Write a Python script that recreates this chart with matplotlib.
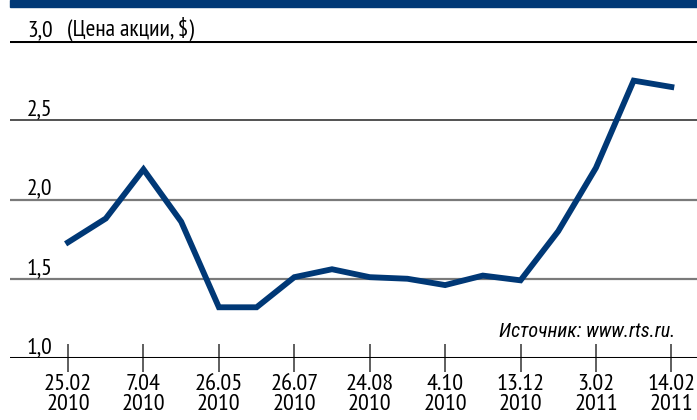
import matplotlib.pyplot as plt
from matplotlib.patches import Rectangle
from matplotlib.transforms import blended_transform_factory

# Цена акции, $
prices = [1.73, 1.88, 2.19, 1.86, 1.32, 1.32, 1.51, 1.56, 1.51,
          1.50, 1.46, 1.52, 1.49, 1.80, 2.20, 2.75, 2.71]
tick_pos = [0, 2, 4, 6, 8, 10, 12, 14, 16]
tick_labels = ['25.02\n2010', '7.04\n2010', '26.05\n2010', '26.07\n2010',
               '24.08\n2010', '4.10\n2010', '13.12\n2010', '3.02\n2011',
               '14.02\n2011']
y_levels = [1.0, 1.5, 2.0, 2.5, 3.0]
y_labels = ['1,0', '1,5', '2,0', '2,5', '3,0']

NAVY = '#003876'
FONT = ['PT Sans Narrow', 'Roboto Condensed', 'Fira Sans Condensed', 'DejaVu Sans']
FONT_IT = ['Roboto Condensed', 'Fira Sans Condensed', 'PT Sans Narrow', 'DejaVu Sans']
plt.rcParams['font.family'] = FONT

W, H = 697, 420
fig = plt.figure(figsize=(W / 100, H / 100), dpi=100)
ax = fig.add_axes([10 / W, (H - 358) / H, 687 / W, 317 / H])

# полоса заголовка сверху
fig.patches.append(Rectangle((10 / W, (H - 7) / H), 1, 7 / H,
                             transform=fig.transFigure, color=NAVY, zorder=0))

# горизонтальные линии сетки
for lev in y_levels:
    if lev in (1.0, 3.0):
        ax.axhline(lev, color='black', lw=2.2, zorder=2)
    elif lev == 2.5:
        ax.axhline(lev, color='#444444', lw=1.3, zorder=1)
    else:
        ax.axhline(lev, color='#7a7a7a', lw=1.6, zorder=1)

ax.plot(range(len(prices)), prices, color=NAVY, lw=4.2,
        solid_joinstyle='miter', zorder=3)

ax.set_xlim(-1.54, 16.68)
ax.set_ylim(1.0, 3.0)
for s in ax.spines.values():
    s.set_visible(False)

ax.set_yticks([])
ax.set_xticks(tick_pos)
ax.set_xticklabels(tick_labels, fontsize=17.5, linespacing=0.92)
ax.tick_params(axis='x', direction='inout', length=19.5, width=1.1,
               color='#333333', pad=2)

# подписи оси Y над линиями
tr = blended_transform_factory(fig.transFigure, ax.transData)
for lev, lab in zip(y_levels, y_labels):
    ax.annotate(lab, xy=(27 / W, lev), xycoords=tr, xytext=(0, 3.5),
                textcoords='offset points', fontsize=17, ha='left',
                va='baseline')
ax.annotate('(Цена акции, $)', xy=(67 / W, 3.0), xycoords=tr,
            xytext=(0, 4), textcoords='offset points',
            fontsize=17, ha='left', va='baseline')

ax.text((675 - 10) / 687, (358 - 337) / 317, 'Источник: www.rts.ru.',
        transform=ax.transAxes, fontsize=14.5, style='italic', family=FONT_IT,
        ha='right', va='baseline')

fig.savefig('out.png', dpi=100)
